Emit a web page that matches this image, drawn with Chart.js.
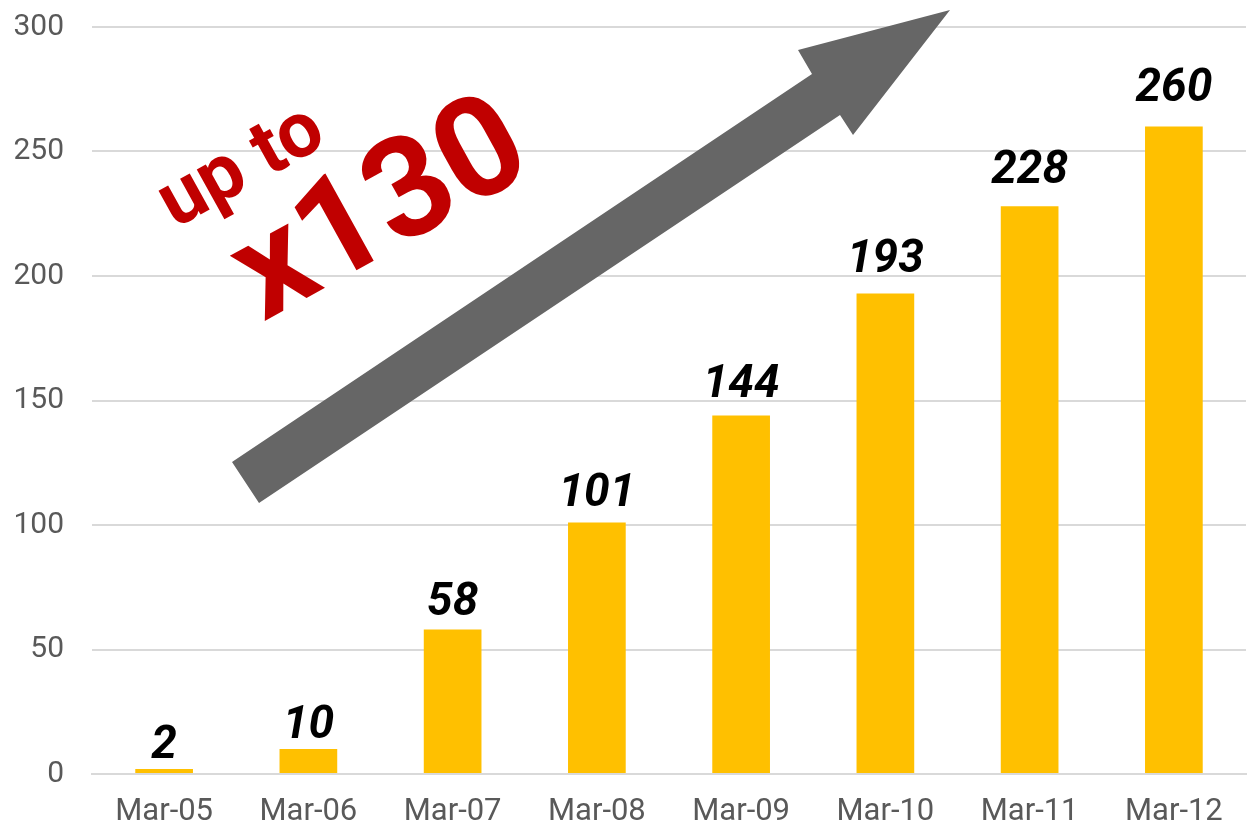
<!DOCTYPE html>
<html>
<head>
<meta charset="utf-8">
<script src="https://cdn.jsdelivr.net/npm/chart.js@4/dist/chart.umd.min.js"></script>
<style>
  html, body { margin: 0; padding: 0; background: #fff; }
  #wrap { width: 1250px; height: 836px; }
</style>
</head>
<body>
<div id="wrap"><canvas id="chart" width="1250" height="836"></canvas></div>
<script>
// chart data
const months = ['Mar-05', 'Mar-06', 'Mar-07', 'Mar-08', 'Mar-09', 'Mar-10', 'Mar-11', 'Mar-12'];
const counts = [2, 10, 58, 101, 144, 193, 228, 260];
const yTicks = [0, 50, 100, 150, 200, 250, 300];

const FONT = 'Roboto, "DejaVu Sans", sans-serif';

// value labels above the bars (gap grows a little with bar height, like the original)
const valueLabels = {
  id: 'valueLabels',
  afterDatasetsDraw(chart) {
    const c = chart.ctx;
    const meta = chart.getDatasetMeta(0);
    c.save();
    c.fillStyle = '#000';
    c.font = 'italic bold 46px ' + FONT;
    c.textAlign = 'center';
    c.textBaseline = 'alphabetic';
    meta.data.forEach((bar, i) => {
      const gap = 11 + 0.022 * (bar.base - bar.y);
      c.fillText(String(counts[i]), bar.x, bar.y - gap);
    });
    c.restore();
  }
};

// big grey arrow + "up to x130" callout
const callout = {
  id: 'callout',
  afterDatasetsDraw(chart) {
    const c = chart.ctx;
    c.save();
    c.fillStyle = '#666666';
    c.beginPath();
    c.moveTo(232, 462);
    c.lineTo(812, 74);
    c.lineTo(798, 50);
    c.lineTo(950, 10);
    c.lineTo(853, 135);
    c.lineTo(840, 115);
    c.lineTo(259, 503);
    c.closePath();
    c.fill();

    c.fillStyle = '#C00000';
    c.textAlign = 'center';
    c.textBaseline = 'alphabetic';

    c.save();
    c.translate(252, 186);
    c.rotate(-29 * Math.PI / 180);
    c.font = 'bold 78px ' + FONT;
    c.fillText('up to', 0, 0);
    c.restore();

    c.save();
    c.translate(400, 246);
    c.rotate(-29 * Math.PI / 180);
    c.font = 'bold 140px ' + FONT;
    c.fillText('x130', 0, 0);
    c.restore();

    c.restore();
  }
};

new Chart(document.getElementById('chart'), {
  type: 'bar',
  data: {
    labels: months,
    datasets: [{
      data: counts,
      backgroundColor: '#FFC000',
      borderWidth: 0,
      barPercentage: 0.4,
      categoryPercentage: 1.0
    }]
  },
  options: {
    responsive: false,
    animation: false,
    layout: { padding: { top: 27, right: 4, bottom: 0, left: 0 } },
    plugins: { legend: { display: false }, tooltip: { enabled: false } },
    scales: {
      x: {
        grid: { display: false },
        border: { display: true, color: '#d9d9d9', width: 2 },
        ticks: { color: '#595959', font: { size: 31, family: FONT }, padding: 12, maxRotation: 0 },
        afterFit(scale) { scale.height = 62; }
      },
      y: {
        min: 0,
        max: 300,
        afterBuildTicks(scale) { scale.ticks = yTicks.map(v => ({ value: v })); },
        grid: { color: '#d9d9d9', lineWidth: 2, drawTicks: false },
        border: { display: false },
        ticks: { color: '#595959', font: { size: 30, family: FONT }, padding: 28 },
        afterFit(scale) { scale.width = 92; scale.paddingTop = 0; scale.paddingBottom = 0; }
      }
    }
  },
  plugins: [valueLabels, callout]
});
</script>
</body>
</html>
